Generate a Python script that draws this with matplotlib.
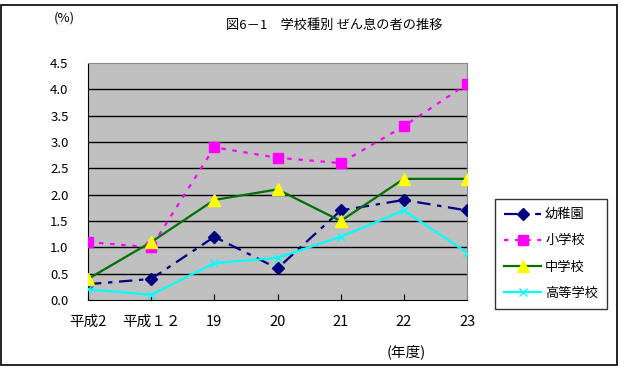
import matplotlib.pyplot as plt
from matplotlib.patches import Rectangle

plt.rcParams['font.family'] = ['Noto Sans CJK JP', 'DejaVu Sans']

years = ['平成2', '平成１２', '19', '20', '21', '22', '23']
kinder = [0.3, 0.4, 1.2, 0.6, 1.7, 1.9, 1.7]
elementary = [1.1, 1.0, 2.9, 2.7, 2.6, 3.3, 4.1]
junior = [0.4, 1.1, 1.9, 2.1, 1.5, 2.3, 2.3]
high = [0.2, 0.1, 0.7, 0.8, 1.2, 1.7, 0.9]
yticks = [0.0, 0.5, 1.0, 1.5, 2.0, 2.5, 3.0, 3.5, 4.0, 4.5]

fig = plt.figure(figsize=(6.25, 3.71), dpi=100)
ax = fig.add_axes([88 / 625, 71 / 371, 379 / 625, 237 / 371])
ax.set_facecolor('#c0c0c0')

x = list(range(len(years)))
ax.plot(x, kinder, color='#000080', lw=1.6, ls=(0, (6, 3, 2, 3)),
        marker='D', ms=6, mfc='#000080', mec='#000080', label='幼稚園', zorder=3)
ax.plot(x, elementary, color='#ff00ff', lw=1.6, ls=(0, (2, 3)),
        marker='s', ms=7.5, mfc='#ff00ff', mec='#ff00ff', label='小学校', zorder=3)
ax.plot(x, junior, color='#007000', lw=1.6, ls='-',
        marker='^', ms=9, mfc='#ffff00', mec='#ffff00', label='中学校', zorder=3)
ax.plot(x, high, color='#00ffff', lw=1.6, ls='-',
        marker='x', ms=6, mew=1, mec='#00ffff', label='高等学校', zorder=3)

ax.set_xlim(0, len(years) - 1)
ax.set_ylim(0, 4.5)
ax.set_yticks(yticks)
ax.set_yticklabels([f'{v:.1f}' for v in yticks], fontsize=9.5)
ax.set_xticks(x)
ax.set_xticklabels(years, fontsize=10.5)
ax.tick_params(axis='y', length=0, pad=14)
ax.tick_params(axis='x', direction='in', length=4, pad=11)
for v in yticks[1:-1]:
    ax.axhline(v, color='black', lw=1, zorder=1)
for side in ['top', 'right']:
    ax.spines[side].set_color('#888888')
for side in ['left', 'bottom']:
    ax.spines[side].set_color('black')

fig.text(334 / 625, 1 - 25 / 371, '図6－1　学校種別 ぜん息の者の推移',
         ha='center', va='center', fontsize=9.5)
fig.text(64 / 625, 1 - 18 / 371, '(%)', ha='center', va='center', fontsize=9.5)
fig.text(406 / 625, 1 - 352 / 371, '(年度)', ha='center', va='center', fontsize=10.5)

leg = fig.legend(loc='upper left', bbox_to_anchor=(495 / 625, 1 - 199 / 371),
                 fontsize=9.5, frameon=True, fancybox=False, edgecolor='black',
                 handlelength=2.8, labelspacing=1.0, borderpad=0.7,
                 handletextpad=0.3, borderaxespad=0)
leg.get_frame().set_linewidth(1)

fig.add_artist(Rectangle((1 / 625, 6 / 371), 616 / 625, 360 / 371,
                         transform=fig.transFigure, fill=False,
                         edgecolor='black', lw=1.2))

fig.savefig('out.png', dpi=100)
